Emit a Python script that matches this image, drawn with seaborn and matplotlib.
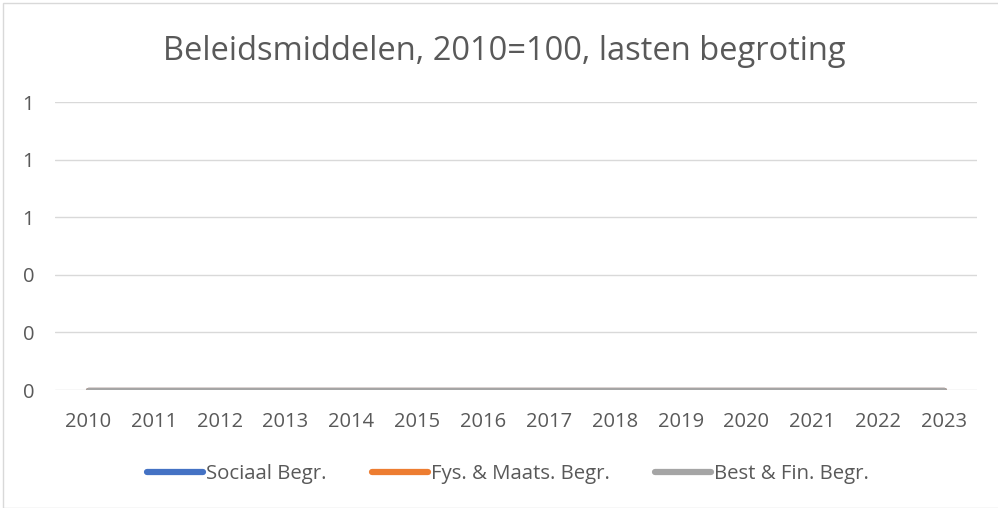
import matplotlib
matplotlib.use("Agg")
import matplotlib.pyplot as plt
import seaborn as sns
import pandas as pd
from matplotlib.patches import Rectangle

# ---- data ----
jaren = list(range(2010, 2024))
sociaal = [0] * 14
fys_maats = [0] * 14
best_fin = [0] * 14
series_names = ["Sociaal Begr.", "Fys. & Maats. Begr.", "Best & Fin. Begr."]
y_ticks = [0, 0.2, 0.4, 0.6, 0.8, 1.0]
title = "Beleidsmiddelen, 2010=100, lasten begroting"

df = pd.DataFrame({
    "jaar": jaren * 3,
    "waarde": sociaal + fys_maats + best_fin,
    "reeks": [series_names[0]] * 14 + [series_names[1]] * 14 + [series_names[2]] * 14,
})

sns.set_theme(style="white")
plt.rcParams["font.family"] = ["Open Sans", "DejaVu Sans"]
text_color = "#595959"
palette = {series_names[0]: "#4472C4", series_names[1]: "#ED7D31", series_names[2]: "#A5A5A5"}

fig = plt.figure(figsize=(9.98, 5.08), dpi=100)
ax = fig.add_axes([55 / 998, 1 - 390 / 508, 922 / 998, 288 / 508])

sns.lineplot(data=df, x="jaar", y="waarde", hue="reeks", palette=palette,
             hue_order=series_names, linewidth=3.8, ax=ax, legend=False,
             solid_capstyle="round")

ax.set_xlim(2009.5, 2023.5)
ax.set_ylim(0, 1.0)
ax.set_xticks(jaren)
ax.set_xticklabels([str(j) for j in jaren])
ax.set_yticks(y_ticks)
ax.set_yticklabels([f"{v:.0f}" for v in y_ticks])
ax.set_xlabel("")
ax.set_ylabel("")
for s in ax.spines.values():
    s.set_visible(False)
ax.grid(axis="y", color="#D9D9D9", linewidth=1)
ax.set_axisbelow(True)
ax.tick_params(axis="both", length=0, labelsize=14.5, colors=text_color)
ax.tick_params(axis="y", pad=15)
ax.tick_params(axis="x", pad=16)

fig.text(0.505, 1 - 52 / 508, title, ha="center", va="center",
         fontsize=23.5, color=text_color)

handles = [plt.Line2D([], [], color=palette[n], linewidth=4.5, solid_capstyle="round")
           for n in series_names]
fig.legend(handles, series_names, loc="center", bbox_to_anchor=(0.509, 1 - 474 / 508),
           ncol=3, frameon=False, fontsize=14.7, labelcolor=text_color,
           handlelength=2.75, handletextpad=0.15, columnspacing=2.2)

fig.patches.append(Rectangle((3 / 998, 0), 1, 1 - 3 / 508, transform=fig.transFigure,
                             fill=False, edgecolor="#D9D9D9", linewidth=1))

fig.savefig("out.png", dpi=100)
